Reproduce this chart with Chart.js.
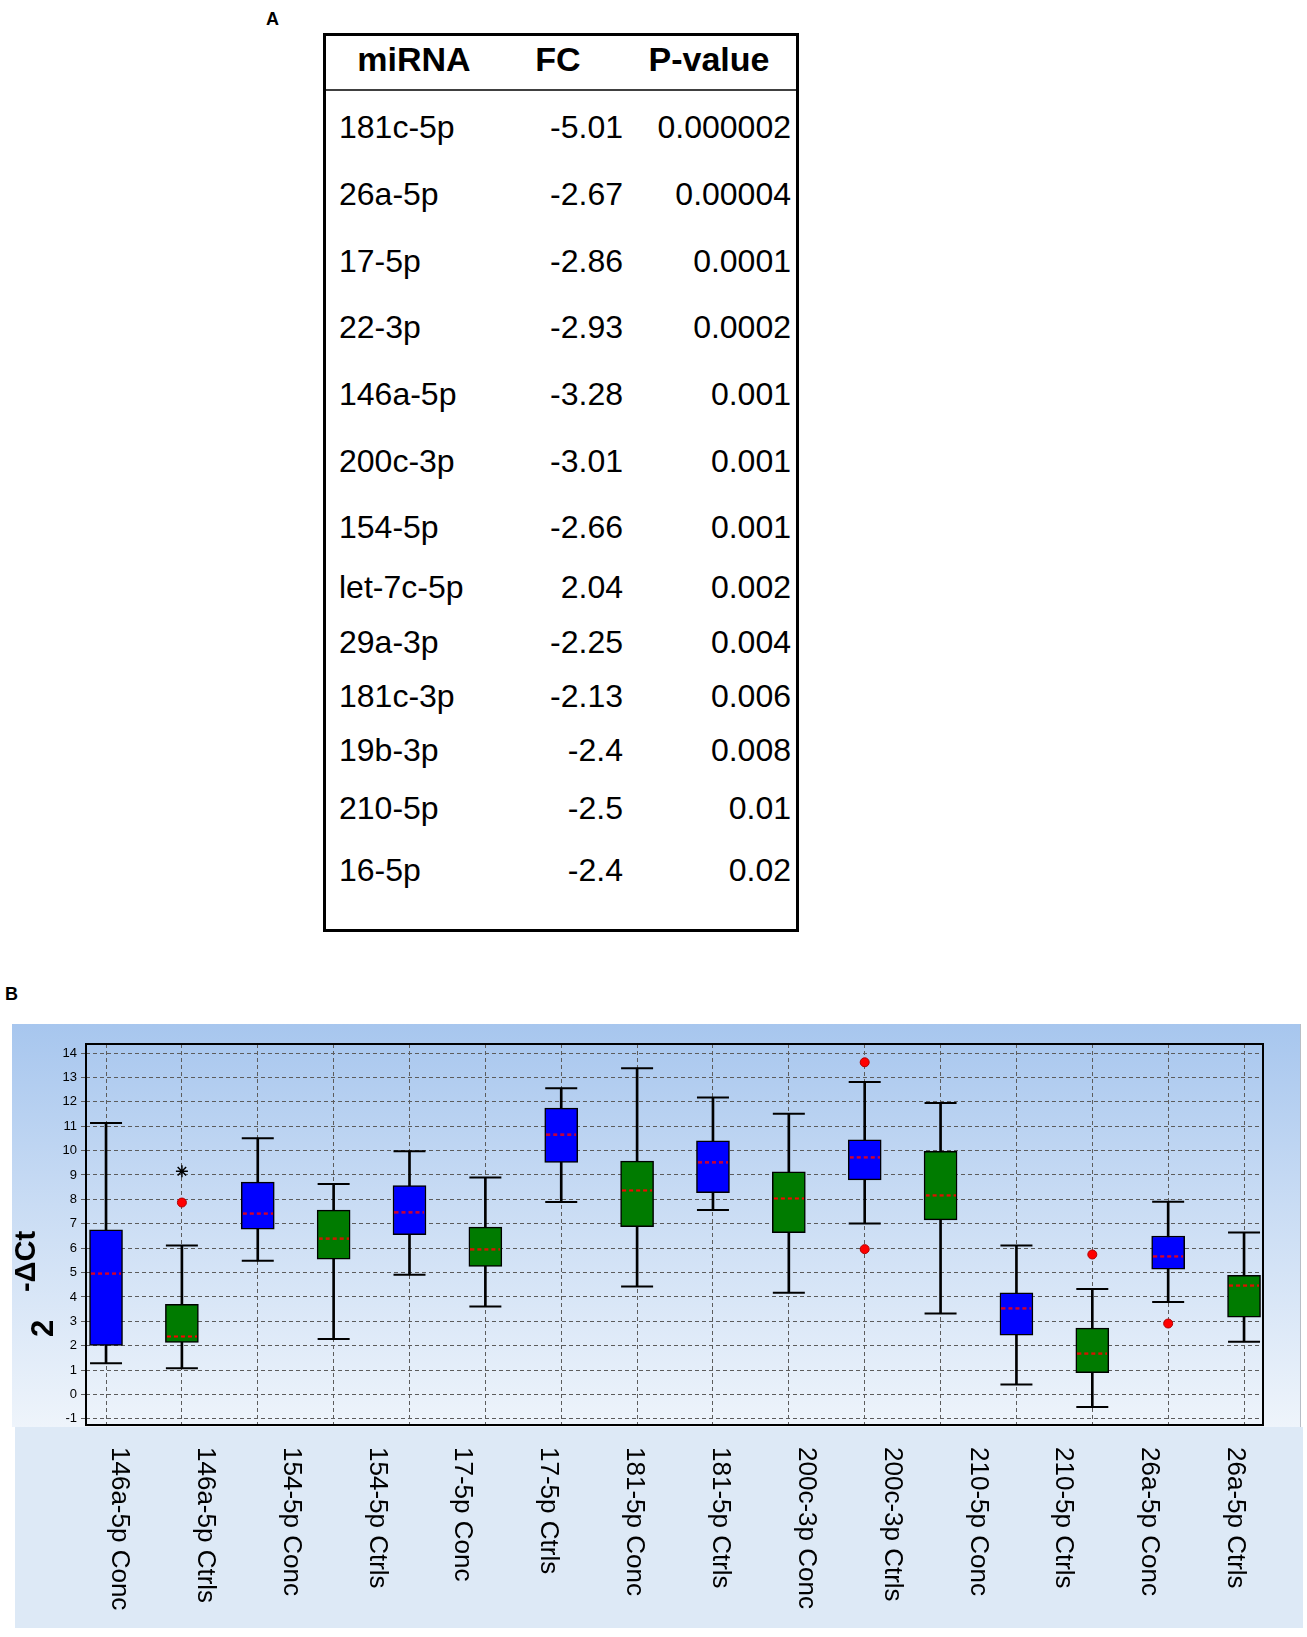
<!DOCTYPE html>
<html>
<head>
<meta charset="utf-8">
<title>miRNA boxplot</title>
<script src="https://cdn.jsdelivr.net/npm/chart.js@4.4.1/dist/chart.umd.min.js"></script>
<style>
  body {
    margin: 0;
    width: 1307px;
    height: 1637px;
    position: relative;
    overflow: hidden;
    background: #fff;
    font-family: "Liberation Sans", Arial, sans-serif;
  }
  #panelA { position: absolute; left: 0; top: 0; }
  .panel-tag { position: absolute; font-weight: bold; font-size: 18px; line-height: 1; }
  #plotBg {
    position: absolute; left: 12px; top: 1024px; width: 1288px; height: 403px;
    background: linear-gradient(to bottom, #a7c6ee 0%, #c9dcf4 45%, #eef4fb 100%);
    border-right: 1px solid #b7bec6;
  }
  #labelBand {
    position: absolute; left: 15px; top: 1427px; width: 1288px; height: 201px;
    background: #dde9f6;
  }
  #chartWrap { position: absolute; left: 0; top: 1000px; width: 1307px; height: 637px; }
</style>
</head>
<body>

<div class="panel-tag" style="left:266px; top:10px;">A</div>
<svg id="panelA" width="1307" height="960"></svg>

<div class="panel-tag" style="left:5px; top:985px;">B</div>
<div id="plotBg"></div>
<div id="labelBand"></div>
<div id="chartWrap"><canvas id="chartBoxplot" width="1307" height="637"></canvas></div>

<script>
// ================================================
// Data - panel A (table)
// ================================================

const tableHeaders = ['miRNA', 'FC', 'P-value'];
const tableMirna = ['181c-5p', '26a-5p', '17-5p', '22-3p', '146a-5p', '200c-3p', '154-5p',
  'let-7c-5p', '29a-3p', '181c-3p', '19b-3p', '210-5p', '16-5p'];
const tableFC = ['-5.01', '-2.67', '-2.86', '-2.93', '-3.28', '-3.01', '-2.66',
  '2.04', '-2.25', '-2.13', '-2.4', '-2.5', '-2.4'];
const tablePValue = ['0.000002', '0.00004', '0.0001', '0.0002', '0.001', '0.001', '0.001',
  '0.002', '0.004', '0.006', '0.008', '0.01', '0.02'];

// ================================================
// Data - panel B (boxplot)
// ================================================

const xLabels = ['146a-5p Conc', '146a-5p Ctrls', '154-5p Conc', '154-5p Ctrls', '17-5p Conc',
  '17-5p Ctrls', '181-5p Conc', '181-5p Ctrls', '200c-3p Conc', '200c-3p Ctrls',
  '210-5p Conc', '210-5p Ctrls', '26a-5p Conc', '26a-5p Ctrls'];

// one entry per box, left to right
const boxGroup = ['Conc', 'Ctrls', 'Conc', 'Ctrls', 'Conc', 'Ctrls', 'Conc', 'Ctrls',
  'Conc', 'Ctrls', 'Conc', 'Ctrls', 'Conc', 'Ctrls', 'Conc', 'Ctrls'];
const whiskerHigh = [11.13, 6.11, 10.51, 8.63, 9.97, 8.90, 12.56, 13.38, 12.18, 11.51, 12.81, 11.95, 6.11, 4.33, 7.90, 6.64];
const q3 = [6.75, 3.70, 8.71, 7.56, 8.57, 6.86, 11.74, 9.57, 10.40, 9.13, 10.44, 9.97, 4.17, 2.72, 6.50, 4.89];
const median = [4.95, 2.38, 7.41, 6.38, 7.48, 5.96, 10.64, 8.37, 9.53, 8.04, 9.73, 8.17, 3.54, 1.67, 5.67, 4.46];
const q1 = [2.01, 2.14, 6.78, 5.55, 6.55, 5.25, 9.51, 6.88, 8.28, 6.64, 8.80, 7.16, 2.43, 0.90, 5.14, 3.17];
const whiskerLow = [1.28, 1.08, 5.48, 2.28, 4.91, 3.61, 7.89, 4.43, 7.56, 4.17, 7.01, 3.32, 0.41, -0.51, 3.79, 2.16];

const outlierBox = [2, 11, 11, 14, 15];
const outlierValue = [7.87, 13.62, 5.96, 5.74, 2.91];
const extremeBox = [2];
const extremeValue = [9.15];

const yTicks = [-1, 0, 1, 2, 3, 4, 5, 6, 7, 8, 9, 10, 11, 12, 13, 14];

const groupColors = { Conc: '#0000ff', Ctrls: '#007b00' };
const FONT = '"Liberation Sans", Arial, sans-serif';

// Initialize
document.addEventListener('DOMContentLoaded', function() {
  initTable();
  initChart();
});

// ================================================
// Panel A - table
// ================================================

function initTable() {
  const svg = document.getElementById('panelA');
  const ns = 'http://www.w3.org/2000/svg';
  // row baselines (layout only)
  const rowY = [138, 205, 272, 338, 405, 472, 538, 598, 653, 707, 761, 819, 881];

  function add(tag, attrs, text) {
    const el = document.createElementNS(ns, tag);
    Object.keys(attrs).forEach(k => el.setAttribute(k, attrs[k]));
    if (text !== undefined) el.textContent = text;
    svg.appendChild(el);
    return el;
  }

  add('rect', { x: 324.5, y: 34.5, width: 473, height: 896, fill: 'none', stroke: '#000', 'stroke-width': 3 });
  add('line', { x1: 326, x2: 797, y1: 90, y2: 90, stroke: '#000', 'stroke-width': 1.5 });

  const headX = [414, 558, 709];
  tableHeaders.forEach((h, i) => {
    add('text', { x: headX[i], y: 71, 'text-anchor': 'middle', 'font-family': FONT,
      'font-size': 34, 'font-weight': 'bold' }, h);
  });

  tableMirna.forEach((m, i) => {
    const common = { y: rowY[i], 'font-family': FONT, 'font-size': 32 };
    add('text', Object.assign({ x: 339, 'text-anchor': 'start' }, common), m);
    add('text', Object.assign({ x: 623, 'text-anchor': 'end' }, common), tableFC[i]);
    add('text', Object.assign({ x: 791, 'text-anchor': 'end' }, common), tablePValue[i]);
  });
}

// ================================================
// Panel B - boxplot
// ================================================

function makeMedianDash() {
  const c = document.createElement('canvas');
  c.width = 30;
  c.height = 3;
  const g = c.getContext('2d');
  g.strokeStyle = '#ff0000';
  g.lineWidth = 2;
  g.setLineDash([4, 3]);
  g.beginPath();
  g.moveTo(0, 1.5);
  g.lineTo(30, 1.5);
  g.stroke();
  return c;
}

const plotFrame = {
  id: 'plotFrame',
  afterDraw(chart) {
    const { ctx, chartArea: a } = chart;
    ctx.save();
    ctx.strokeStyle = '#000';
    ctx.lineWidth = 2;
    ctx.strokeRect(a.left, a.top, a.right - a.left, a.bottom - a.top);
    ctx.restore();
  }
};

const groupLabels = {
  id: 'groupLabels',
  afterDraw(chart) {
    const { ctx, chartArea } = chart;
    const xl = chart.scales.xl;
    ctx.save();
    ctx.fillStyle = '#000';
    ctx.font = '26px ' + FONT;
    ctx.textAlign = 'left';
    ctx.textBaseline = 'alphabetic';
    xLabels.forEach((label, i) => {
      ctx.save();
      ctx.translate(xl.getPixelForValue(i + 1), chartArea.bottom + 22);
      ctx.rotate(Math.PI / 2);
      ctx.fillText(label, 0, 0);
      ctx.restore();
    });
    ctx.restore();
  }
};

const yTitle = {
  id: 'yTitle',
  afterDraw(chart) {
    const { ctx, chartArea } = chart;
    ctx.save();
    ctx.fillStyle = '#000';
    ctx.textAlign = 'center';
    ctx.textBaseline = 'middle';
    ctx.translate(chartArea.left - 41.5, chartArea.top + 284.5);
    ctx.rotate(-Math.PI / 2);
    ctx.font = 'bold 31px ' + FONT;
    ctx.fillText('2', 0, 0);
    ctx.font = 'bold 29px ' + FONT;
    ctx.fillText('-\u0394Ct', 67, -18);
    ctx.restore();
  }
};

function initChart() {
  const chartBoxplotCtx = document.getElementById('chartBoxplot');
  if (!chartBoxplotCtx) return;

  Chart.defaults.font.family = FONT;
  const pos = boxGroup.map((g, i) => i + 1);
  const colors = boxGroup.map(g => groupColors[g]);

  const caps = [];
  pos.forEach((x, i) => {
    caps.push({ x: x, y: whiskerHigh[i] });
    caps.push({ x: x, y: whiskerLow[i] });
  });

  new Chart(chartBoxplotCtx, {
    type: 'bar',
    data: {
      datasets: [
        {
          type: 'scatter',
          label: 'Extremes',
          data: extremeBox.map((b, i) => ({ x: b, y: extremeValue[i] })),
          pointStyle: 'star',
          pointRadius: 6,
          borderColor: '#000',
          borderWidth: 1.5,
          order: 0
        },
        {
          type: 'scatter',
          label: 'Outliers',
          data: outlierBox.map((b, i) => ({ x: b, y: outlierValue[i] })),
          pointStyle: 'circle',
          pointRadius: 4.5,
          backgroundColor: '#ff0000',
          borderColor: '#b00000',
          borderWidth: 1,
          order: 1
        },
        {
          type: 'scatter',
          label: 'Median',
          data: pos.map((x, i) => ({ x: x, y: median[i] })),
          pointStyle: makeMedianDash(),
          order: 2
        },
        {
          type: 'bar',
          label: 'IQR',
          data: pos.map((x, i) => ({ x: x, y: [q1[i], q3[i]] })),
          backgroundColor: colors,
          borderColor: '#000',
          borderWidth: 1.5,
          borderSkipped: false,
          barThickness: 33,
          grouped: false,
          order: 3
        },
        {
          type: 'scatter',
          label: 'Caps',
          data: caps,
          pointStyle: 'line',
          pointRadius: 16,
          borderColor: '#000',
          borderWidth: 2,
          order: 4
        },
        {
          type: 'bar',
          label: 'Whiskers',
          data: pos.map((x, i) => ({ x: x, y: [whiskerLow[i], whiskerHigh[i]] })),
          backgroundColor: '#000',
          borderWidth: 0,
          barThickness: 2,
          grouped: false,
          order: 5
        }
      ]
    },
    options: {
      responsive: false,
      animation: false,
      events: [],
      layout: {
        padding: { left: 0, top: 44, right: 44, bottom: 212 }
      },
      plugins: {
        legend: { display: false },
        tooltip: { enabled: false }
      },
      scales: {
        x: {
          type: 'linear',
          min: 0.736,
          max: 16.25,
          offset: false,
          afterBuildTicks: s => { s.ticks = pos.map(v => ({ value: v })); },
          afterFit: s => { s.height = 0; },
          ticks: { display: false },
          grid: { color: '#5c5c5c', lineWidth: 1, drawTicks: false, offset: false },
          border: { display: false, dash: [4, 3] }
        },
        xl: {
          type: 'linear',
          position: 'bottom',
          display: false,
          offset: false,
          grid: { offset: false },
          min: 0.697,
          max: 14.407
        },
        y: {
          type: 'linear',
          min: -1.25,
          max: 14.37,
          afterBuildTicks: s => { s.ticks = yTicks.map(v => ({ value: v })); },
          afterFit: s => { s.width = 86; },
          ticks: {
            color: '#000',
            padding: 4,
            font: { size: 13 }
          },
          grid: { color: '#5c5c5c', lineWidth: 1, tickLength: 5 },
          border: { display: false, dash: [4, 3] }
        }
      }
    },
    plugins: [plotFrame, groupLabels, yTitle]
  });
}
</script>
</body>
</html>
